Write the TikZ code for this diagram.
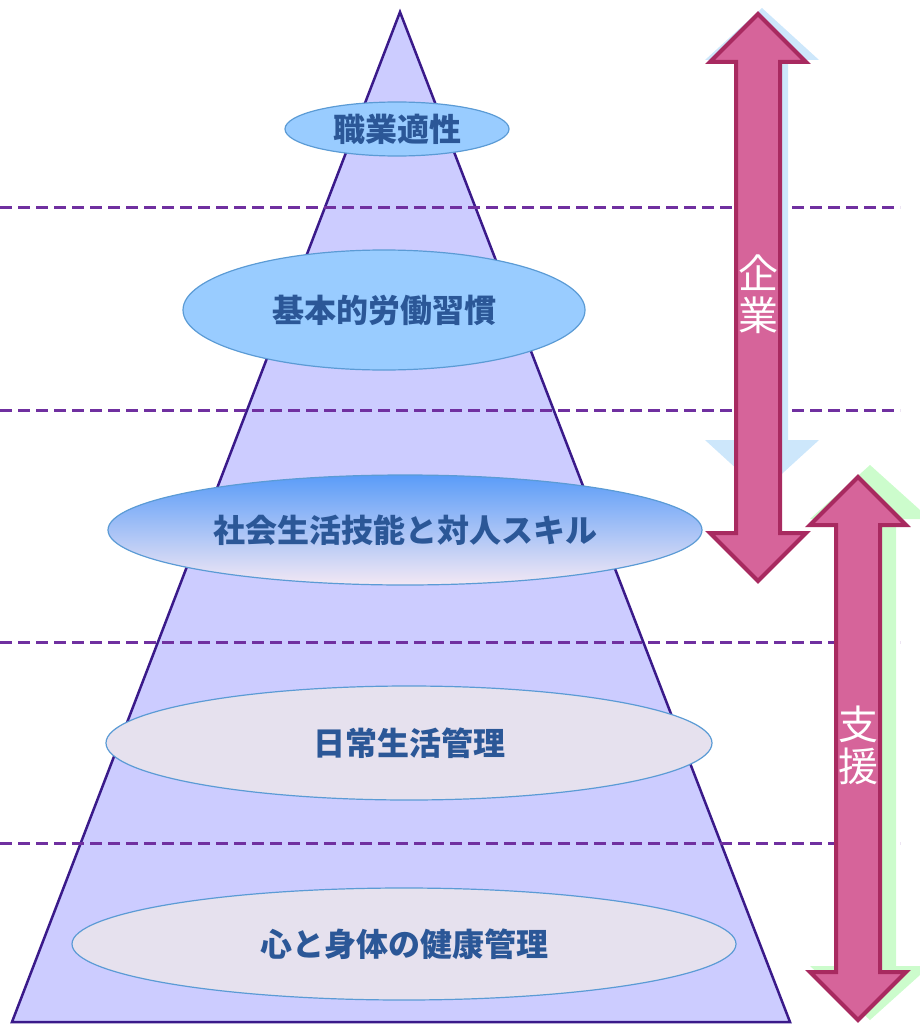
\documentclass[tikz,border=0pt]{standalone}
\usepackage{fontspec}
\newfontfamily\jp{Noto Sans CJK JP}
\usetikzlibrary{shapes.geometric}
\definecolor{trifill}{HTML}{CCCCFF}
\definecolor{triline}{HTML}{3A1A8A}
\definecolor{dashc}{HTML}{7030A0}
\definecolor{ellline}{HTML}{5B9BD5}
\definecolor{ellblue}{HTML}{99CCFF}
\definecolor{ellgrey}{HTML}{E6E1EE}
\definecolor{gradtop}{HTML}{5A9CF8}
\definecolor{gradmid}{HTML}{A9C8F2}
\definecolor{gradbot}{HTML}{F3E8F4}
\definecolor{txtblue}{HTML}{2B5797}
\definecolor{arrfill}{HTML}{D6649A}
\definecolor{arrline}{HTML}{A82A60}
\definecolor{shblue}{HTML}{CDE7FB}
\definecolor{shgreen}{HTML}{CCFCCC}
\tikzset{
  lvl/.style={ellipse, draw=ellline, line width=1.2pt, inner sep=0pt,
    font=\jp\bfseries\fontsize{32}{32}\selectfont, text=txtblue},
  sep/.style={draw=dashc, line width=3pt, dash pattern=on 12pt off 6pt},
  bigarrow/.style={fill=arrfill, draw=arrline, line width=4pt, line join=miter},
  vlabel/.style={text=white, font=\jp\fontsize{40}{40}\selectfont, align=center}
}
% x, ytop, ybot, head half-width, shaft half-width, head length
\newcommand{\vdarrowpath}[6]{%
  (#1,#2) -- (#1+#4,#2+#6) -- (#1+#5,#2+#6) -- (#1+#5,#3-#6) -- (#1+#4,#3-#6)
  -- (#1,#3) -- (#1-#4,#3-#6) -- (#1-#5,#3-#6) -- (#1-#5,#2+#6) -- (#1-#4,#2+#6) -- cycle}
\begin{document}
\begin{tikzpicture}[x=1pt,y=-1pt]
\useasboundingbox (0,0) rectangle (920,1025);
% pyramid
\draw[fill=trifill, draw=triline, line width=2.5pt, line join=miter]
  (400,12) -- (790,1022) -- (12,1022) -- cycle;
% separators
\foreach \yy in {207,410,642,843}
  \draw[sep] (0,\yy) -- (900,\yy);
% levels
\node[lvl, fill=ellblue, minimum width=224pt, minimum height=54pt] (l1) at (397,129) {職業適性};
\node[lvl, fill=ellblue, minimum width=402pt, minimum height=120pt] (l2) at (384,310) {基本的労働習慣};
\node[lvl, top color=gradtop, middle color=gradmid, bottom color=gradbot,
  minimum width=594pt, minimum height=110pt] (l3) at (405,530) {社会生活技能と対人スキル};
\node[lvl, fill=ellgrey, minimum width=606pt, minimum height=114pt] (l4) at (409,743) {日常生活管理};
\node[lvl, fill=ellgrey, minimum width=664pt, minimum height=112pt] (l5) at (404,944) {心と身体の健康管理};
% shadow arrows
\fill[shblue] \vdarrowpath{762}{8}{492}{57}{26}{52};
\fill[shgreen] \vdarrowpath{870}{465}{1020}{60}{26}{54};
% arrows
\draw[bigarrow] \vdarrowpath{758}{14}{581}{48}{22}{48};
\draw[bigarrow] \vdarrowpath{858}{477}{1020}{48}{22}{48};
\node[vlabel] (kigyo) at (758,294) {企\\[2pt]業};
\node[vlabel] (shien) at (858,745) {支\\[2pt]援};
\end{tikzpicture}
\end{document}
